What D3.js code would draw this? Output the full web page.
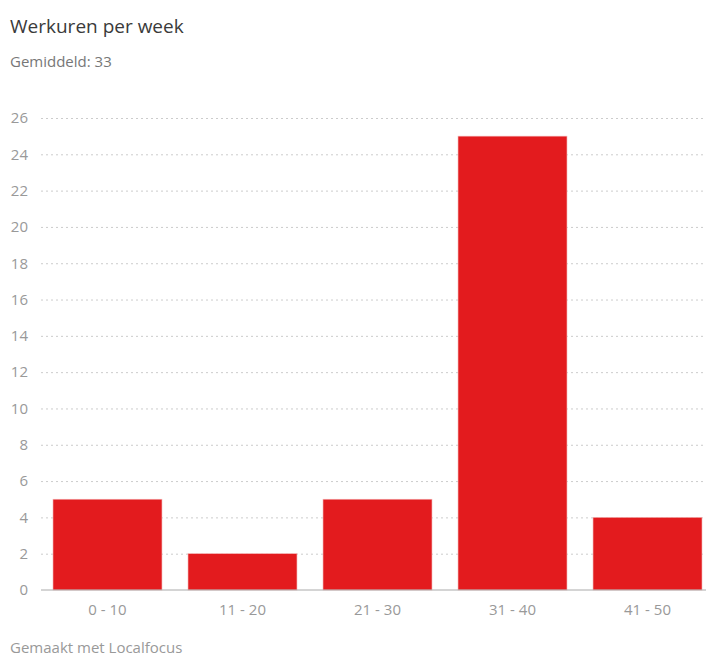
<!DOCTYPE html>
<html>
<head>
<meta charset="utf-8">
<script src="https://cdn.jsdelivr.net/npm/d3@7"></script>
<style>
  body { margin: 0; background: #fff; font-family: "Open Sans", sans-serif; }
  .grid line { stroke: #ccc; stroke-dasharray: 2, 3; }
  .grid path { display: none; }
  .yaxis text, .xaxis text { fill: #999; font-size: 15px; font-family: "Open Sans", sans-serif; }
</style>
</head>
<body>
<div id="chart"></div>
<script>
// data
var categories = ["0 - 10", "11 - 20", "21 - 30", "31 - 40", "41 - 50"];
var values = [5, 2, 5, 25, 4];
var yTicks = [0, 2, 4, 6, 8, 10, 12, 14, 16, 18, 20, 22, 24, 26];

var svgWidth = 706;
var svgHeight = 657;

var svg = d3.select("#chart")
  .append("svg")
  .attr("width", svgWidth)
  .attr("height", svgHeight);

// title + subtitle
svg.append("text")
  .attr("x", 10)
  .attr("y", 33)
  .attr("fill", "#3a3a3a")
  .style("font-size", "19px")
  .text("Werkuren per week");

svg.append("text")
  .attr("x", 10)
  .attr("y", 67)
  .attr("fill", "#777")
  .style("font-size", "15px")
  .text("Gemiddeld: 33");

var plotLeft = 41, plotRight = 714, plotTop = 118, plotBottom = 590;

var x = d3.scaleBand()
  .domain(categories)
  .range([plotLeft, plotRight])
  .paddingInner(0.193)
  .paddingOuter(0.089);

var y = d3.scaleLinear()
  .domain([0, 26])
  .range([plotBottom, plotTop]);

// gridlines
svg.append("g")
  .attr("class", "grid")
  .attr("transform", `translate(${plotLeft}, 0)`)
  .call(d3.axisRight(y).tickValues(yTicks.slice(1)).tickSize(svgWidth - plotLeft).tickFormat(""));

// y labels
var yAxis = svg.append("g")
  .attr("class", "yaxis")
  .attr("transform", `translate(${plotLeft}, 0)`)
  .call(d3.axisLeft(y).tickValues(yTicks).tickSize(0).tickPadding(13));
yAxis.select(".domain").remove();

// bars
svg.selectAll("rect.bar")
  .data(values)
  .enter()
  .append("rect")
  .attr("class", "bar")
  .attr("x", (d, i) => x(categories[i]))
  .attr("y", d => y(d))
  .attr("width", x.bandwidth())
  .attr("height", d => y(0) - y(d))
  .attr("fill", "#e31b1e")
  .attr("stroke", "#f3b0b0")
  .attr("stroke-width", 0.6);

// x axis
var xAxis = svg.append("g")
  .attr("class", "xaxis")
  .attr("transform", `translate(0, ${plotBottom})`)
  .call(d3.axisBottom(x).tickSize(0).tickPadding(14));
xAxis.select(".domain")
  .attr("d", `M${plotLeft},0H${svgWidth}`)
  .attr("stroke", "#aaa");

// footer
svg.append("text")
  .attr("x", 10)
  .attr("y", 653)
  .attr("fill", "#999")
  .style("font-size", "15px")
  .text("Gemaakt met Localfocus");
</script>
</body>
</html>
